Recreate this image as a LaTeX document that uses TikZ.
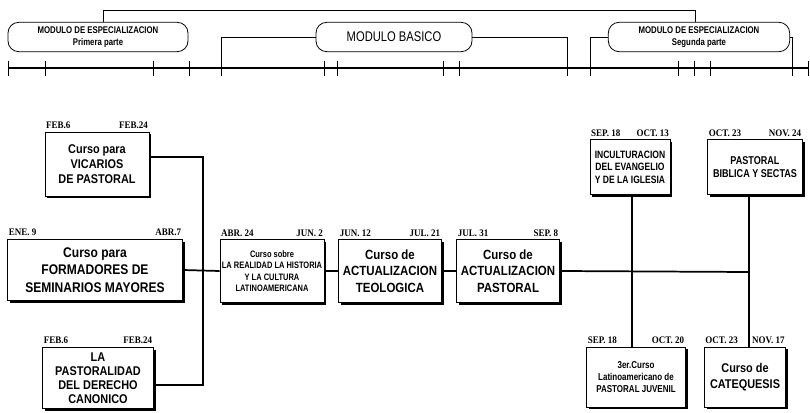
\documentclass[tikz,border=0pt]{standalone}
\usepackage{fontspec}
\setmainfont{Liberation Sans}
\newfontfamily\fechafont{Liberation Serif}[FakeStretch=0.9]
\newfontfamily\angosta{Liberation Sans}[FakeStretch=0.8]
\newfontfamily\media{Liberation Sans}[FakeStretch=0.86]
\usetikzlibrary{shadows}
\tikzset{
  curso/.style={draw, fill=white, line width=0.7pt, align=center, inner sep=1pt,
    font=\media\bfseries\fontsize{9.5}{11.5}\selectfont,
    drop shadow={shadow xshift=1.8pt, shadow yshift=-1.8pt, fill=black, opacity=1}},
  grande/.style={font=\media\bfseries\fontsize{10.5}{13}\selectfont},
  chico/.style={font=\angosta\bfseries\fontsize{7}{8.5}\selectfont},
  modulo/.style={draw, fill=white, rounded corners=8pt, line width=0.6pt, align=center,
    minimum height=22pt, font=\angosta\bfseries\fontsize{7.3}{8.5}\selectfont},
  fecha/.style={font=\fechafont\bfseries\fontsize{7.5}{8}\selectfont, inner sep=1pt},
  enlace/.style={line width=1.3pt},
  fino/.style={line width=0.6pt},
}
\begin{document}
\begin{tikzpicture}[x=0.75pt, y=-0.75pt]
    \useasboundingbox (0,0) rectangle (810,413);

    % modulos
    \node[modulo, minimum width=135pt] (modA) at (98,37) {MODULO DE ESPECIALIZACION\\Primera parte};
    \node[modulo, minimum width=117pt, font=\angosta\fontsize{10.5}{12}\selectfont] (modB) at (394,37) {MODULO BASICO};
    \node[modulo, minimum width=136pt] (modC) at (699,37) {MODULO DE ESPECIALIZACION\\Segunda parte};

    % linea de tiempo
    \draw[line width=2pt] (8,68) -- (808,68);
    \foreach \t in {8,45,153,189,221,324,337,443,459,567,590,678,694,710,792,808}
        \draw[fino] (\t,61) -- (\t,76);

    % enlaces de modulos
    \coordinate (ta) at (103,10);
    \coordinate (tc) at (695,10);
    \coordinate (b1) at (221,68);
    \coordinate (b2) at (567,68);
    \coordinate (c1) at (590,68);
    \coordinate (c2) at (792,68);
    \draw[fino] (ta |- modA.north) -- (ta) -- (tc) -- (tc |- modC.north);
    \draw[fino] (modB.west) -| (b1);
    \draw[fino] (modB.east) -| (b2);
    \draw[fino] (modC.west) -| (c1);
    \draw[fino] (modC.east) -| (c2);

    % cursos
    \node[curso, minimum width=78pt, minimum height=48pt] (vic) at (97,164) {Curso para\\VICARIOS\\DE PASTORAL};
    \node[curso, grande, minimum width=131pt, minimum height=46pt] (form) at (95,270) {Curso para\\FORMADORES DE\\SEMINARIOS MAYORES};
    \node[curso, minimum width=83pt, minimum height=46pt, font=\media\bfseries\fontsize{9.5}{10.5}\selectfont] (dcho) at (98,378) {LA\\PASTORALIDAD\\DEL DERECHO\\CANONICO};
    \node[curso, chico, minimum width=78pt, minimum height=47pt] (real) at (272,271) {Curso sobre\\LA REALIDAD LA HISTORIA\\Y LA CULTURA\\LATINOAMERICANA};
    \node[curso, minimum width=77pt, minimum height=47pt, font=\media\bfseries\fontsize{10}{12.5}\selectfont] (teol) at (390,271) {Curso de\\ACTUALIZACION\\TEOLOGICA};
    \node[curso, minimum width=77pt, minimum height=47pt, font=\media\bfseries\fontsize{10}{12.5}\selectfont] (past) at (508,271) {Curso de\\ACTUALIZACION\\PASTORAL};
    \node[curso, minimum width=60pt, minimum height=41pt, font=\angosta\bfseries\fontsize{8}{9.5}\selectfont] (inc) at (630,167) {INCULTURACION\\DEL EVANGELIO\\Y DE LA IGLESIA};
    \node[curso, minimum width=71pt, minimum height=41pt, font=\angosta\bfseries\fontsize{8.5}{10}\selectfont] (bib) at (755,167) {PASTORAL\\BIBLICA Y SECTAS};
    \node[curso, minimum width=74pt, minimum height=45pt, font=\angosta\bfseries\fontsize{7.5}{9}\selectfont] (juv) at (636,377) {3er.Curso\\Latinoamericano de\\PASTORAL JUVENIL};
    \node[curso, minimum width=61pt, minimum height=45pt] (cat) at (745,377) {Curso de\\CATEQUESIS};

    % fechas
    \foreach \b/\i/\f in {vic/FEB.6/FEB.24, form/ENE. 9/ABR.7, dcho/FEB.6/FEB.24,
            real/ABR. 24/JUN. 2, teol/JUN. 12/JUL. 21, past/JUL. 31/SEP. 8,
            inc/SEP. 18/OCT. 13, bib/OCT. 23/NOV. 24, juv/SEP. 18/OCT. 20, cat/OCT. 23/NOV. 17} {
        \node[fecha, anchor=south west] (\b-i) at ([yshift=1pt]\b.north west) {\i};
        \node[fecha, anchor=south east] (\b-f) at ([yshift=1pt]\b.north east) {\f};
    }

    % enlaces de cursos
    \coordinate (bus) at (203,272);
    \coordinate (fin) at (749,272);
    \coordinate (pj) at (632,272);
    \draw[enlace] ([yshift=5pt]vic.east) -| (bus) |- ([yshift=-5pt]dcho.east);
    \draw[enlace] (form.east) -- (real.west);
    \draw[enlace] (real.east) -- (teol.west);
    \draw[enlace] (teol.east) -- (past.west);
    \draw[enlace] (past.east) -- (fin);
    \draw[enlace] (pj |- inc.south) -- (pj |- juv.north);
    \draw[enlace] (fin |- bib.south) -- (fin |- cat.north);
\end{tikzpicture}
\end{document}
